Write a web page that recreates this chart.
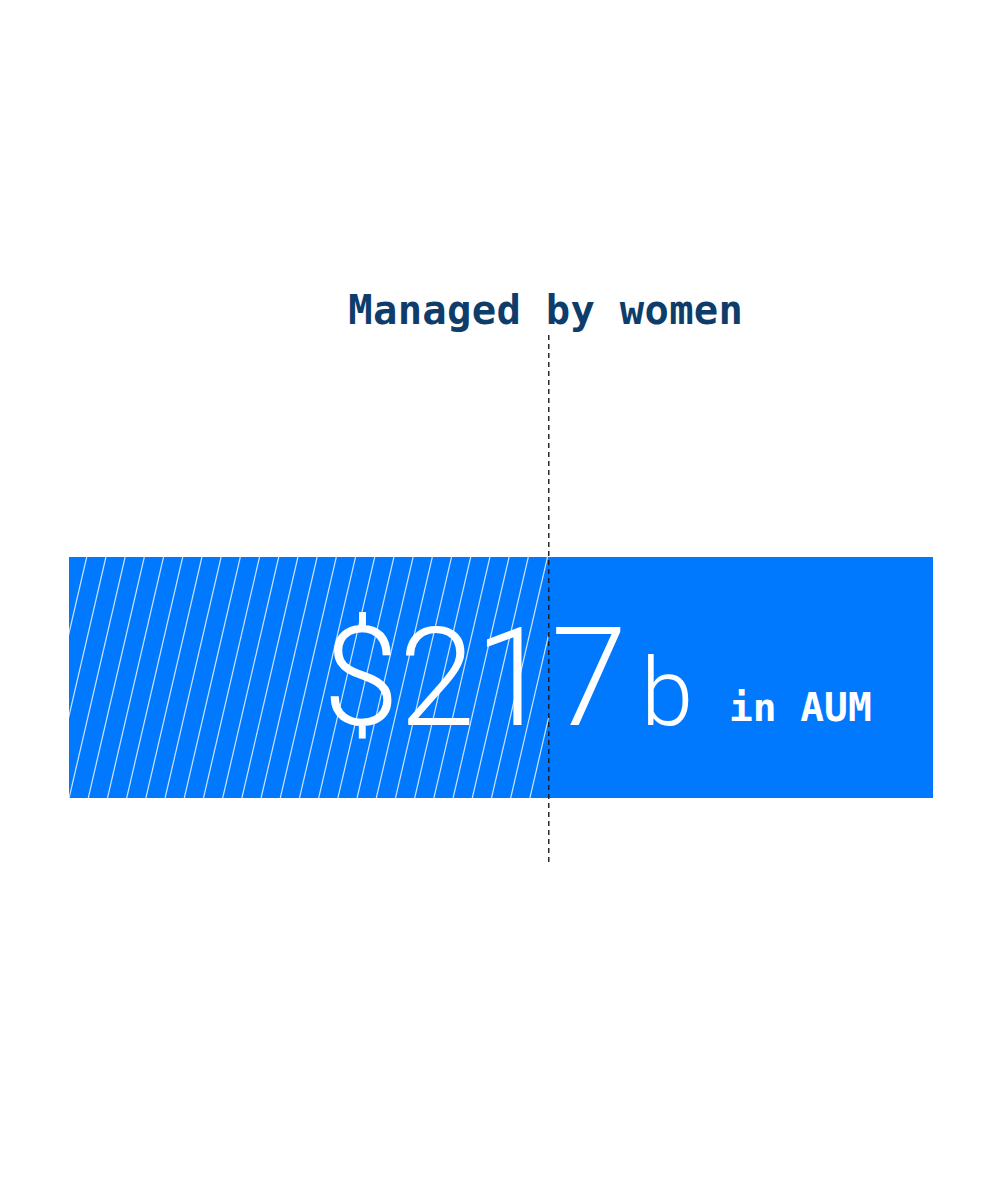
<!DOCTYPE html>
<html>
<head>
<meta charset="utf-8">
<script src="https://cdn.jsdelivr.net/npm/d3@7"></script>
<style>
  html, body { margin: 0; padding: 0; background: #ffffff; }
  svg { display: block; }
</style>
</head>
<body>
<div class="chart"></div>
<script>
// data
let categories = ["Managed by women"];
let totalAum = 217; // total AUM, $ billions
let dividerValues = [120.5]; // position of the dashed marker on the same scale
let valueLabels = ["$217"];
let unitLabels = ["b"];
let suffixLabels = ["in AUM"];

// exposed variables
let attrs = {
  width: 1000,
  height: 1201,
  barLeft: 69,
  barRight: 933,
  barTop: 557,
  barHeight: 241,
  barColor: "#0079ff",
  titleColor: "#0e3d6c",
  hatchSpacing: 19.2,
  hatchSlant: 56, // horizontal shift of a hatch line over the bar height
  hatchOffset: 17.7,
  monoFont: "'DejaVu Sans Mono', monospace",
  numberFont: "Roboto, 'Open Sans', sans-serif",
};

let svg = d3
  .select(".chart")
  .append("svg")
  .attr("width", attrs.width)
  .attr("height", attrs.height);

// x scale over total AUM
let x = d3
  .scaleLinear()
  .domain([0, totalAum])
  .range([attrs.barLeft, attrs.barRight]);

let xDivider = x(dividerValues[0]);

// clip for the hatched part
svg
  .append("defs")
  .append("clipPath")
  .attr("id", "hatchClip")
  .append("rect")
  .attr("x", x(0))
  .attr("y", attrs.barTop)
  .attr("width", xDivider - x(0))
  .attr("height", attrs.barHeight);

// the bar
svg
  .append("rect")
  .attr("x", x(0))
  .attr("y", attrs.barTop)
  .attr("width", x(totalAum) - x(0))
  .attr("height", attrs.barHeight)
  .attr("fill", attrs.barColor);

// big number text
let numberGroup = svg.append("g");

numberGroup
  .append("text")
  .attr("x", 323)
  .attr("y", 725)
  .attr("font-family", attrs.numberFont)
  .attr("font-weight", 300)
  .attr("font-size", 137)
  .attr("fill", "#ffffff")
  .text(valueLabels[0]);

numberGroup
  .append("text")
  .attr("x", 641)
  .attr("y", 725)
  .attr("font-family", attrs.numberFont)
  .attr("font-weight", 300)
  .attr("font-size", 94)
  .attr("fill", "#ffffff")
  .text(unitLabels[0]);

numberGroup
  .append("text")
  .attr("x", 729)
  .attr("y", 721)
  .attr("font-family", attrs.monoFont)
  .attr("font-weight", "bold")
  .attr("font-size", 39.5)
  .attr("fill", "#ffffff")
  .text(suffixLabels[0]);

// hatch lines over the left part
let hatchCount = Math.ceil((xDivider - x(0) + attrs.hatchSlant) / attrs.hatchSpacing) + 1;
svg
  .append("g")
  .attr("clip-path", "url(#hatchClip)")
  .selectAll("line")
  .data(d3.range(hatchCount))
  .enter()
  .append("line")
  .attr("x1", (d) => x(0) + attrs.hatchOffset + d * attrs.hatchSpacing - attrs.hatchSlant)
  .attr("y1", attrs.barTop + attrs.barHeight)
  .attr("x2", (d) => x(0) + attrs.hatchOffset + d * attrs.hatchSpacing)
  .attr("y2", attrs.barTop)
  .attr("stroke", "rgba(255,255,255,0.8)")
  .attr("stroke-width", 1.2);

// dashed divider
svg
  .append("line")
  .attr("x1", xDivider)
  .attr("x2", xDivider)
  .attr("y1", 335)
  .attr("y2", 862)
  .attr("stroke", "#1a1a1a")
  .attr("stroke-width", 1.4)
  .attr("stroke-dasharray", "5,4");

// title above the divider
svg
  .append("text")
  .attr("x", xDivider - 3)
  .attr("y", 324)
  .attr("text-anchor", "middle")
  .attr("font-family", attrs.monoFont)
  .attr("font-weight", "bold")
  .attr("font-size", 40.5)
  .attr("letter-spacing", 0.3)
  .attr("fill", attrs.titleColor)
  .text(categories[0]);
</script>
</body>
</html>
